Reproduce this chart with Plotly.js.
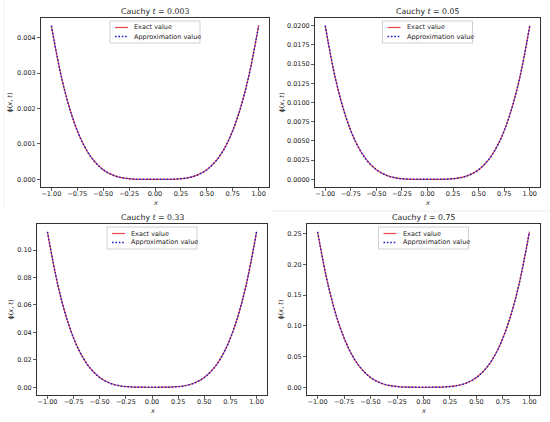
<!DOCTYPE html>
<html>
<head>
<meta charset="utf-8">
<script src="https://cdn.plot.ly/plotly-3.0.1.min.js"></script>
<style>html,body{margin:0;padding:0;background:#fff;}#chart{width:550px;height:422px;}</style>
</head>
<body>
<div id="chart"></div>
<script>
// x grid
const xs = [-1.0,-0.9,-0.8,-0.7,-0.6,-0.5,-0.4,-0.3,-0.2,-0.1,0.0,0.1,0.2,0.3,0.4,0.5,0.6,0.7,0.8,0.9,1.0];
// phi(x,t) values per panel
const phiT003 = [0.00434,0.00285,0.00178,0.00104,0.00056,0.00027,0.00011,0.000035,0.000007,0.0000004,0,
                 0.0000004,0.000007,0.000035,0.00011,0.00027,0.00056,0.00104,0.00178,0.00285,0.00434];
const phiT05  = [0.0200,0.0131,0.0082,0.0048,0.0026,0.00125,0.00051,0.00016,0.00003,0.000002,0,
                 0.000002,0.00003,0.00016,0.00051,0.00125,0.0026,0.0048,0.0082,0.0131,0.0200];
const phiT33  = [0.1134,0.0744,0.0464,0.0272,0.0147,0.0071,0.0029,0.0009,0.00018,0.00001,0,
                 0.00001,0.00018,0.0009,0.0029,0.0071,0.0147,0.0272,0.0464,0.0744,0.1134];
const phiT75  = [0.2533,0.1662,0.1038,0.0608,0.0328,0.0158,0.0065,0.0021,0.0004,0.00003,0,
                 0.00003,0.0004,0.0021,0.0065,0.0158,0.0328,0.0608,0.1038,0.1662,0.2533];
const tLabels = ['0.003','0.05','0.33','0.75'];
const legendNames = ['Exact value','Approximation value'];
const series = [phiT003, phiT05, phiT33, phiT75];
const yTickStep = [0.001, 0.0025, 0.02, 0.05];
const yTickFmt = ['.3f', '.4f', '.2f', '.2f'];
const xTickVals = [-1.0,-0.75,-0.5,-0.25,0.0,0.25,0.5,0.75,1.0];

const W = 550, H = 422;
// pixel boxes [left, right, top, bottom]
const boxes = [[41,269,18,187],[315,540,18,187],[37,267,224,395],[307,540,224,395]];
const px = v => v / W;
const py = v => 1 - v / H;

const FAM = 'DejaVu Sans, sans-serif';
const tickFont = {family:FAM, size:6.5, color:'#222'};
const RED = '#e8464a', BLUE = '#1f1fc8';
const traces = [];
const layout = {
  width:W, height:H, margin:{l:0,r:0,t:0,b:0},
  paper_bgcolor:'#fff', plot_bgcolor:'#fff',
  showlegend:false, annotations:[], shapes:[], font:tickFont
};
// faint image borders seen in the reference
layout.shapes.push({type:'line', xref:'paper', yref:'paper', x0:px(272), x1:1, y0:py(211), y1:py(211), line:{color:'#ececec', width:1}});
layout.shapes.push({type:'line', xref:'paper', yref:'paper', x0:px(4), x1:px(4), y0:py(0), y1:py(210), line:{color:'#f2f2f2', width:1}});

series.forEach((ys, i) => {
  const n = i + 1;
  const ax = n === 1 ? '' : String(n);
  traces.push({x:xs, y:ys, type:'scatter', mode:'lines', name:legendNames[0],
    line:{color:RED, width:1.2, shape:'spline'}, xaxis:'x'+ax, yaxis:'y'+ax});
  traces.push({x:xs, y:ys, type:'scatter', mode:'lines', name:legendNames[1],
    line:{color:BLUE, width:1.5, dash:'1.6px,1.8px', shape:'spline'}, xaxis:'x'+ax, yaxis:'y'+ax});
  const b = boxes[i];
  const ymax = Math.max(...ys);
  const axStyle = {showline:true, mirror:true, linecolor:'#333', linewidth:1, ticks:'outside',
    ticklen:3, tickcolor:'#333', tickwidth:0.8, showgrid:false, zeroline:false,
    tickfont:tickFont, fixedrange:true};
  layout['xaxis'+ax] = Object.assign({}, axStyle, {
    domain:[px(b[0]), px(b[1])], anchor:'y'+ax, range:[-1.1,1.1],
    tickvals:xTickVals, tickformat:'.2f', ticklabelstandoff:-3
  });
  layout['yaxis'+ax] = Object.assign({}, axStyle, {
    domain:[py(b[3]), py(b[2])], anchor:'x'+ax, range:[-0.05*ymax, 1.05*ymax],
    tick0:0, dtick:yTickStep[i], tickformat:yTickFmt[i]
  });
  const cx = (b[0]+b[1])/2;
  // title
  layout.annotations.push({text:'Cauchy <i>t</i> = ' + tLabels[i], xref:'paper', yref:'paper',
    x:px(cx), y:py(b[2]-6.5), xanchor:'center', yanchor:'middle', showarrow:false,
    font:{family:FAM,size:7.8,color:'#222'}});
  // axis titles
  layout.annotations.push({text:'<i>x</i>', xref:'paper', yref:'paper',
    x:px(cx), y:py(b[3]+15.5), xanchor:'center', yanchor:'middle', showarrow:false,
    font:{family:FAM,size:6.5,color:'#222'}});
  layout.annotations.push({text:'ϕ(<i>x</i>, <i>t</i>)', xref:'paper', yref:'paper',
    x:px(b[0] - (i===1 ? 33 : (i===0 ? 31 : 27))), y:py((b[2]+b[3])/2), xanchor:'center', yanchor:'middle',
    textangle:-90, showarrow:false, font:{family:FAM,size:6.5,color:'#222'}});
  // legend box (upper center)
  const lx0 = cx - 45, lx1 = cx + 45, ly0 = b[2] + 3, ly1 = b[2] + 25;
  layout.shapes.push({type:'rect', xref:'paper', yref:'paper', x0:px(lx0), x1:px(lx1), y0:py(ly0), y1:py(ly1),
    fillcolor:'rgba(255,255,255,0.85)', line:{color:'#c4c4c4', width:0.8}, layer:'above'});
  const row = [ly0 + 6.5, ly0 + 15.5];
  layout.shapes.push({type:'line', xref:'paper', yref:'paper', x0:px(lx0+5), x1:px(lx0+18), y0:py(row[0]), y1:py(row[0]),
    line:{color:RED, width:1.2}, layer:'above'});
  layout.shapes.push({type:'line', xref:'paper', yref:'paper', x0:px(lx0+5), x1:px(lx0+18), y0:py(row[1]), y1:py(row[1]),
    line:{color:BLUE, width:1.5, dash:'1.6px,1.8px'}, layer:'above'});
  legendNames.forEach((nm, k) => {
    layout.annotations.push({text:nm, xref:'paper', yref:'paper', x:px(lx0+22), y:py(row[k]),
      xanchor:'left', yanchor:'middle', showarrow:false, font:{family:FAM,size:6.5,color:'#222'}});
  });
});
Plotly.newPlot('chart', traces, layout, {staticPlot:true});
</script>
</body>
</html>
